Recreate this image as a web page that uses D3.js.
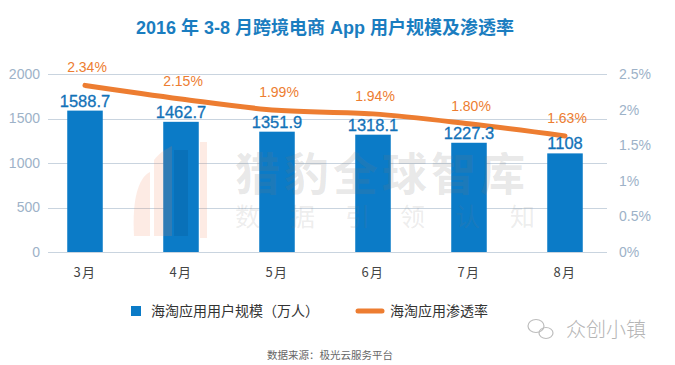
<!DOCTYPE html>
<html>
<head>
<meta charset="utf-8">
<script src="https://cdn.jsdelivr.net/npm/d3@7"></script>
<style>
  body { margin: 0; background: #fff; }
  svg { display: block; font-family: "Liberation Sans", "Noto Sans CJK SC", sans-serif; }
</style>
</head>
<body>
<div id="chart"></div>
<script>
(function(){

    // data
    var months = ["3月", "4月", "5月", "6月", "7月", "8月"];
    var users = [1588.7, 1462.7, 1351.9, 1318.1, 1227.3, 1108];
    var rates = [2.34, 2.15, 1.99, 1.94, 1.80, 1.63];
    var userTicks = [0, 500, 1000, 1500, 2000];
    var rateTicks = [0, 0.5, 1, 1.5, 2, 2.5];
    var rateTickLabels = ["0%", "0.5%", "1%", "1.5%", "2%", "2.5%"];
    var legendNames = ["海淘应用用户规模（万人）", "海淘应用渗透率"];

    var width = 675,
        height = 365;

    var blue = "#0b7bc7",
        orange = "#ed7d31",
        axisGrey = "#9db2c8",
        cjk = "'Noto Sans CJK SC', sans-serif";

    var svg = d3.select("#chart")
        .append("svg")
        .attr("width", width)
        .attr("height", height);

    var x = d3.scaleBand()
        .domain(months)
        .range([37, 613])
        .paddingInner(0.63)
        .paddingOuter(0.315);

    var y = d3.scaleLinear().domain([0, 2000]).range([252, 74]);
    var yR = d3.scaleLinear().domain([0, 2.5]).range([252, 74]);

    //title
    svg.append("text")
        .attr("x", 325)
        .attr("y", 34)
        .attr("text-anchor", "middle")
        .attr("font-size", 18)
        .attr("font-weight", "bold")
        .attr("fill", "#1a7dc0")
        .text("2016 年 3-8 月跨境电商 App 用户规模及渗透率");

    //gridlines
    svg.append("g")
        .selectAll("line")
        .data(userTicks)
        .enter()
        .append("line")
        .attr("x1", 48)
        .attr("x2", 607)
        .attr("y1", function(d){ return Math.round(y(d)) + 0.5; })
        .attr("y2", function(d){ return Math.round(y(d)) + 0.5; })
        .attr("stroke", "#c9d4df")
        .attr("stroke-width", 1);

    //left axis
    var leftAxis = svg.append("g")
        .attr("transform", "translate(40,0)")
        .call(d3.axisLeft(y).tickValues(userTicks).tickSize(0).tickPadding(0)
            .tickFormat(d3.format("d")));
    leftAxis.select(".domain").remove();
    leftAxis.selectAll("text")
        .attr("font-size", 14)
        .attr("font-family", "'Liberation Sans', sans-serif")
        .attr("fill", axisGrey);

    //right axis
    var rightAxis = svg.append("g")
        .attr("transform", "translate(619,0)")
        .call(d3.axisRight(yR).tickValues(rateTicks).tickSize(0).tickPadding(0)
            .tickFormat(function(d, i){ return rateTickLabels[i]; }));
    rightAxis.select(".domain").remove();
    rightAxis.selectAll("text")
        .attr("font-size", 14)
        .attr("font-family", "'Liberation Sans', sans-serif")
        .attr("fill", axisGrey);

    //bars
    svg.append("g")
        .selectAll("rect")
        .data(users)
        .enter()
        .append("rect")
        .attr("x", function(d, i){ return x(months[i]); })
        .attr("y", function(d){ return y(d); })
        .attr("width", x.bandwidth())
        .attr("height", function(d){ return y(0) - y(d); })
        .attr("fill", blue);

    //x labels
    svg.append("g")
        .selectAll("text")
        .data(months)
        .enter()
        .append("text")
        .attr("x", function(d){ return x(d) + x.bandwidth() / 2; })
        .attr("y", 277)
        .attr("text-anchor", "middle")
        .attr("font-size", 13)
        .attr("font-family", cjk)
        .attr("letter-spacing", 1.5)
        .attr("fill", "#444")
        .text(function(d){ return d; });

    //watermark
    var wm = svg.append("g").attr("pointer-events", "none");
    wm.append("path")
        .attr("d", "M150,172 C138,178 132,200 134,236 L150,236 Z")
        .attr("fill", "rgba(240,130,90,0.16)");
    wm.append("path")
        .attr("d", "M154,160 C160,152 168,148 172,146 L172,236 L154,236 Z")
        .attr("fill", "rgba(240,130,90,0.16)");
    wm.append("rect")
        .attr("x", 174).attr("y", 150).attr("width", 14).attr("height", 86)
        .attr("fill", "rgba(0,40,90,0.12)");
    wm.append("rect")
        .attr("x", 200).attr("y", 142).attr("width", 7).attr("height", 96)
        .attr("fill", "rgba(240,130,90,0.16)");
    wm.append("text")
        .attr("x", 235)
        .attr("y", 191)
        .attr("font-size", 45)
        .attr("font-weight", "bold")
        .attr("font-family", cjk)
        .attr("letter-spacing", 4)
        .attr("fill", "rgba(120,120,120,0.18)")
        .text("猎豹全球智库");
    wm.append("text")
        .attr("x", 235)
        .attr("y", 226)
        .attr("font-size", 25)
        .attr("font-family", cjk)
        .attr("letter-spacing", 30)
        .attr("fill", "rgba(120,120,120,0.15)")
        .text("数据引领认知");

    //line
    var line = d3.line()
        .x(function(d, i){ return x(months[i]) + x.bandwidth() / 2; })
        .y(function(d){ return yR(d); })
        .curve(d3.curveMonotoneX);

    svg.append("path")
        .datum(rates)
        .attr("d", line)
        .attr("fill", "none")
        .attr("stroke", orange)
        .attr("stroke-width", 5)
        .attr("stroke-linecap", "round");

    //bar value labels
    svg.append("g")
        .selectAll("text")
        .data(users)
        .enter()
        .append("text")
        .attr("x", function(d, i){ return x(months[i]) + x.bandwidth() / 2; })
        .attr("y", function(d){ return y(d) - 4; })
        .attr("text-anchor", "middle")
        .attr("font-size", 16.5)
        .attr("fill", "#1272b8")
        .attr("stroke", "#1272b8")
        .attr("stroke-width", 0.3)
        .text(function(d){ return d; });

    //rate labels
    svg.append("g")
        .selectAll("text")
        .data(rates)
        .enter()
        .append("text")
        .attr("x", function(d, i){ return x(months[i]) + x.bandwidth() / 2 + 2; })
        .attr("y", function(d){ return yR(d) - 13; })
        .attr("text-anchor", "middle")
        .attr("font-size", 14)
        .attr("fill", orange)
        .text(function(d){ return d.toFixed(2) + "%"; });

    //legend
    var legend = svg.append("g");
    legend.append("rect")
        .attr("x", 131).attr("y", 306).attr("width", 10).attr("height", 10)
        .attr("fill", blue);
    legend.append("text")
        .attr("x", 151).attr("y", 316)
        .attr("font-size", 14)
        .attr("font-family", cjk)
        .attr("fill", "#333")
        .text(legendNames[0]);
    legend.append("line")
        .attr("x1", 358).attr("x2", 382).attr("y1", 311).attr("y2", 311)
        .attr("stroke", orange)
        .attr("stroke-width", 5)
        .attr("stroke-linecap", "round");
    legend.append("text")
        .attr("x", 390).attr("y", 316)
        .attr("font-size", 14)
        .attr("font-family", cjk)
        .attr("fill", "#333")
        .text(legendNames[1]);

    //wechat mark
    var mark = svg.append("g")
        .attr("fill", "none")
        .attr("stroke", "#bdbdbd")
        .attr("stroke-width", 1.2);
    mark.append("ellipse").attr("cx", 536).attr("cy", 326).attr("rx", 8).attr("ry", 6.5);
    mark.append("ellipse").attr("cx", 546).attr("cy", 333).attr("rx", 7).attr("ry", 5.5);
    svg.append("text")
        .attr("x", 566).attr("y", 337)
        .attr("font-size", 20)
        .attr("font-family", cjk)
        .attr("font-weight", 300)
        .attr("fill", "#b5b5b5")
        .text("众创小镇");

    //source
    svg.append("text")
        .attr("x", 330).attr("y", 359)
        .attr("text-anchor", "middle")
        .attr("font-size", 10.5)
        .attr("font-family", cjk)
        .attr("fill", "#666")
        .text("数据来源：极光云服务平台");

})();
</script>
</body>
</html>
